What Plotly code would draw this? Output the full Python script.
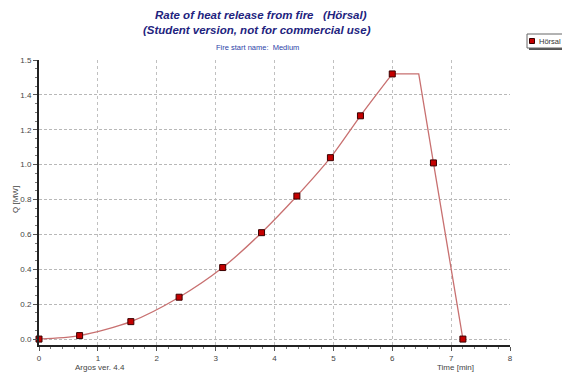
import plotly.graph_objects as go

# ---- data ----
growth_t = [0, 0.69, 1.56, 2.38, 3.12, 3.78, 4.38, 4.95, 5.46, 6.0]
growth_q = [0, 0.02, 0.10, 0.24, 0.41, 0.61, 0.82, 1.04, 1.28, 1.52]
decay_t = [6.0, 6.45, 6.7, 7.2]
decay_q = [1.52, 1.52, 1.01, 0.0]
marker_t = [0, 0.69, 1.56, 2.38, 3.12, 3.78, 4.38, 4.95, 5.46, 6.0, 6.7, 7.2]
marker_q = [0, 0.02, 0.10, 0.24, 0.41, 0.61, 0.82, 1.04, 1.28, 1.52, 1.01, 0.0]
y_tickvals = [0, 0.2, 0.4, 0.6, 0.8, 1.0, 1.2, 1.4, 1.6]
y_ticktext = ["0.0", "0.2", "0.4", "0.6", "0.8", "1.0", "1.2", "1.4", "1.5"]
x_tickvals = [0, 1, 2, 3, 4, 5, 6, 7, 8]
series_name = "Hörsal"

LINE_C = "#c87070"
MARK_C = "#c40000"
MARK_B = "#3a0000"
FONT = "Liberation Sans, Arial, sans-serif"

fig = go.Figure()
fig.add_trace(go.Scatter(x=growth_t, y=growth_q, mode="lines",
                         line=dict(color=LINE_C, width=1.3, shape="spline", smoothing=0.8),
                         showlegend=False, hoverinfo="skip"))
fig.add_trace(go.Scatter(x=decay_t, y=decay_q, mode="lines",
                         line=dict(color=LINE_C, width=1.3),
                         showlegend=False, hoverinfo="skip"))
fig.add_trace(go.Scatter(x=marker_t, y=marker_q, mode="markers", name=series_name,
                         marker=dict(symbol="square", size=6, color=MARK_C,
                                     line=dict(color=MARK_B, width=1)),
                         cliponaxis=False, showlegend=False))

OFF = 8  # page body margin
W, H = 570 - OFF, 376 - OFF
# plot area in page pixels: left 39, right 510, top 60, bottom 345
L, T = 39 - OFF, 60 - OFF
R = W - (510 - OFF)
B = H - (345 - OFF)
pw, ph = W - L - R, H - T - B

def px(x):
    return (x - OFF - L) / pw

def py(y):
    return (H - B - (y - OFF)) / ph

fig.update_xaxes(range=[0, 8], tickvals=x_tickvals, showgrid=True,
                 gridcolor="#c0c0c0", griddash="dot", gridwidth=1,
                 showline=True, linecolor="#222", linewidth=2,
                 ticks="outside", ticklen=4, tickcolor="#555", tickwidth=1,
                 minor=dict(dtick=0.2, ticks="outside", ticklen=2, tickcolor="#777", showgrid=False),
                 tickfont=dict(family=FONT, size=8, color="#444"), zeroline=False)
fig.update_yaxes(range=[-0.034, 1.6], tickvals=y_tickvals, ticktext=y_ticktext,
                 showgrid=True, gridcolor="#b8b8b8", griddash="3px,2px", gridwidth=1,
                 showline=True, linecolor="#222", linewidth=2,
                 ticks="outside", ticklen=4, tickcolor="#555", tickwidth=1,
                 minor=dict(tick0=0, dtick=0.05, ticks="outside", ticklen=2, tickcolor="#777", showgrid=False),
                 tickfont=dict(family=FONT, size=8, color="#444"), zeroline=False)

TITLE_C = "#22237e"
ann = [
    dict(x=px(261), y=py(15), text="<b><i>Rate of heat release from fire   (Hörsal)</i></b>",
         font=dict(family=FONT, size=11.5, color=TITLE_C)),
    dict(x=px(257), y=py(30), text="<b><i>(Student version, not for commercial use)</i></b>",
         font=dict(family=FONT, size=11.5, color=TITLE_C)),
    dict(x=px(257), y=py(47), text="Fire start name:  Medium",
         font=dict(family=FONT, size=7.5, color="#2d3fa8")),
    dict(x=px(100), y=py(367), text="Argos ver. 4.4",
         font=dict(family=FONT, size=8, color="#444")),
    dict(x=px(455), y=py(367), text="Time [min]",
         font=dict(family=FONT, size=8, color="#444")),
    dict(x=px(15), y=py(200), text="Q [MW]", textangle=-90,
         font=dict(family=FONT, size=8, color="#444")),
    dict(x=px(537), y=py(41), text=series_name, xanchor="left",
         font=dict(family=FONT, size=7.5, color="#333")),
]
for a in ann:
    a.setdefault("xanchor", "center")
    fig.add_annotation(xref="paper", yref="paper", showarrow=False, yanchor="middle", **a)

# manual legend box with shadow
shapes = [
    dict(type="rect", xref="paper", yref="paper", x0=px(529), x1=px(568), y0=py(50), y1=py(36),
         fillcolor="#555", line=dict(width=0)),
    dict(type="rect", xref="paper", yref="paper", x0=px(527), x1=px(566), y0=py(48), y1=py(34),
         fillcolor="white", line=dict(color="#666", width=1)),
    dict(type="rect", xref="paper", yref="paper", x0=px(529.5), x1=px(534.5), y0=py(43.5), y1=py(38.5),
         fillcolor=MARK_C, line=dict(color=MARK_B, width=1)),
]
fig.update_layout(shapes=shapes, width=W, height=H,
                  margin=dict(l=L, r=R, t=T, b=B),
                  paper_bgcolor="white", plot_bgcolor="white", showlegend=False)

fig.write_html("out.html")
